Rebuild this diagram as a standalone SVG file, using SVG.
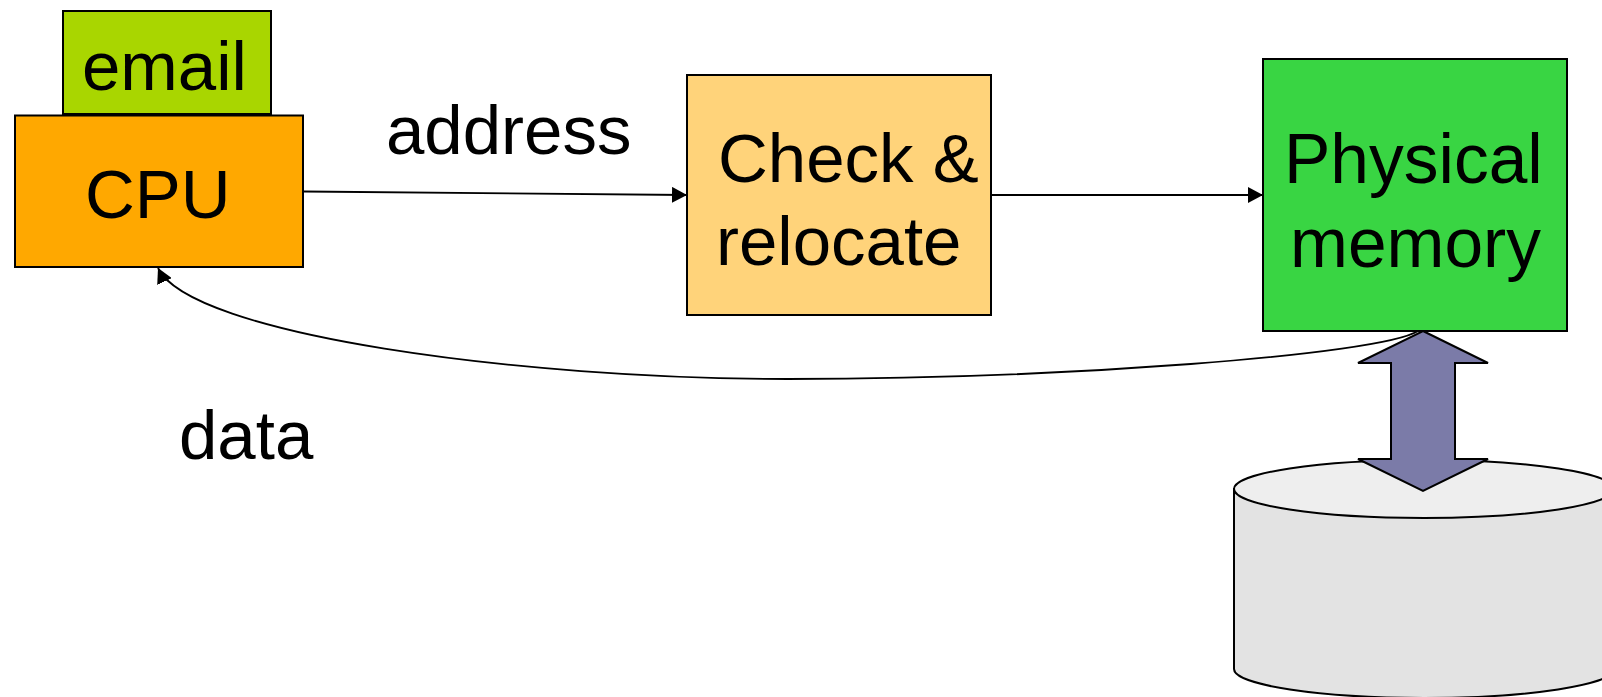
<svg xmlns="http://www.w3.org/2000/svg" width="1602" height="697" viewBox="0 0 1602 697">
<style>
text{font-family:"Liberation Sans",Arial,sans-serif;font-size:69px;fill:#000}
.b{stroke:#000;stroke-width:2}
.c{fill:none;stroke:#000;stroke-width:1.8}
</style>
<defs><marker id="a" markerUnits="userSpaceOnUse" markerWidth="15" markerHeight="16" refX="15" refY="8" orient="auto"><path d="M0 0L15 8L0 16Z" fill="#000"/></marker></defs>
<rect width="1602" height="697" fill="#fff"/>
<g id="disk">
<path class="b" d="M1234 489V669C1234 685 1320 698 1424 698S1614 685 1614 669V489Z" fill="#e3e3e3"/>
<ellipse class="b" cx="1424" cy="489" rx="190" ry="29" fill="#eeeeee"/>
</g>
<g id="email"><rect class="b" x="63" y="11" width="208" height="103" fill="#a9d600"/><text x="82" y="90">email</text></g>
<g id="cpu"><rect class="b" x="15" y="115.500" width="288" height="151.500" fill="#ffa800"/><text x="85" y="218">CPU</text></g>
<g id="check"><rect class="b" x="687" y="75" width="304" height="240" fill="#ffd37a"/><text x="718" y="182">Check &amp;</text><text x="716" y="265">relocate</text></g>
<g id="memory"><rect class="b" x="1263" y="59" width="304" height="272" fill="#39d543"/><text x="1284" y="183" style="font-size:69.500px">Physical</text><text x="1290" y="267" style="font-size:69.500px">memory</text></g>
<g id="connectors">
<path class="c" d="M304 191.500L687 195" marker-end="url(#a)"/>
<path class="c" d="M991 195H1263" marker-end="url(#a)"/>
<path class="c" d="M1418 331C1380 355 1060 379 788 379C520 379 190 335 158 268" marker-end="url(#a)"/>
<path class="b" d="M1423 331L1488 363H1455V459H1488L1423 491L1358 459H1391V363H1358Z" fill="#7b7ba8"/>
</g>
<g id="labels"><text x="386" y="154">address</text><text x="179" y="459">data</text></g>
</svg>
